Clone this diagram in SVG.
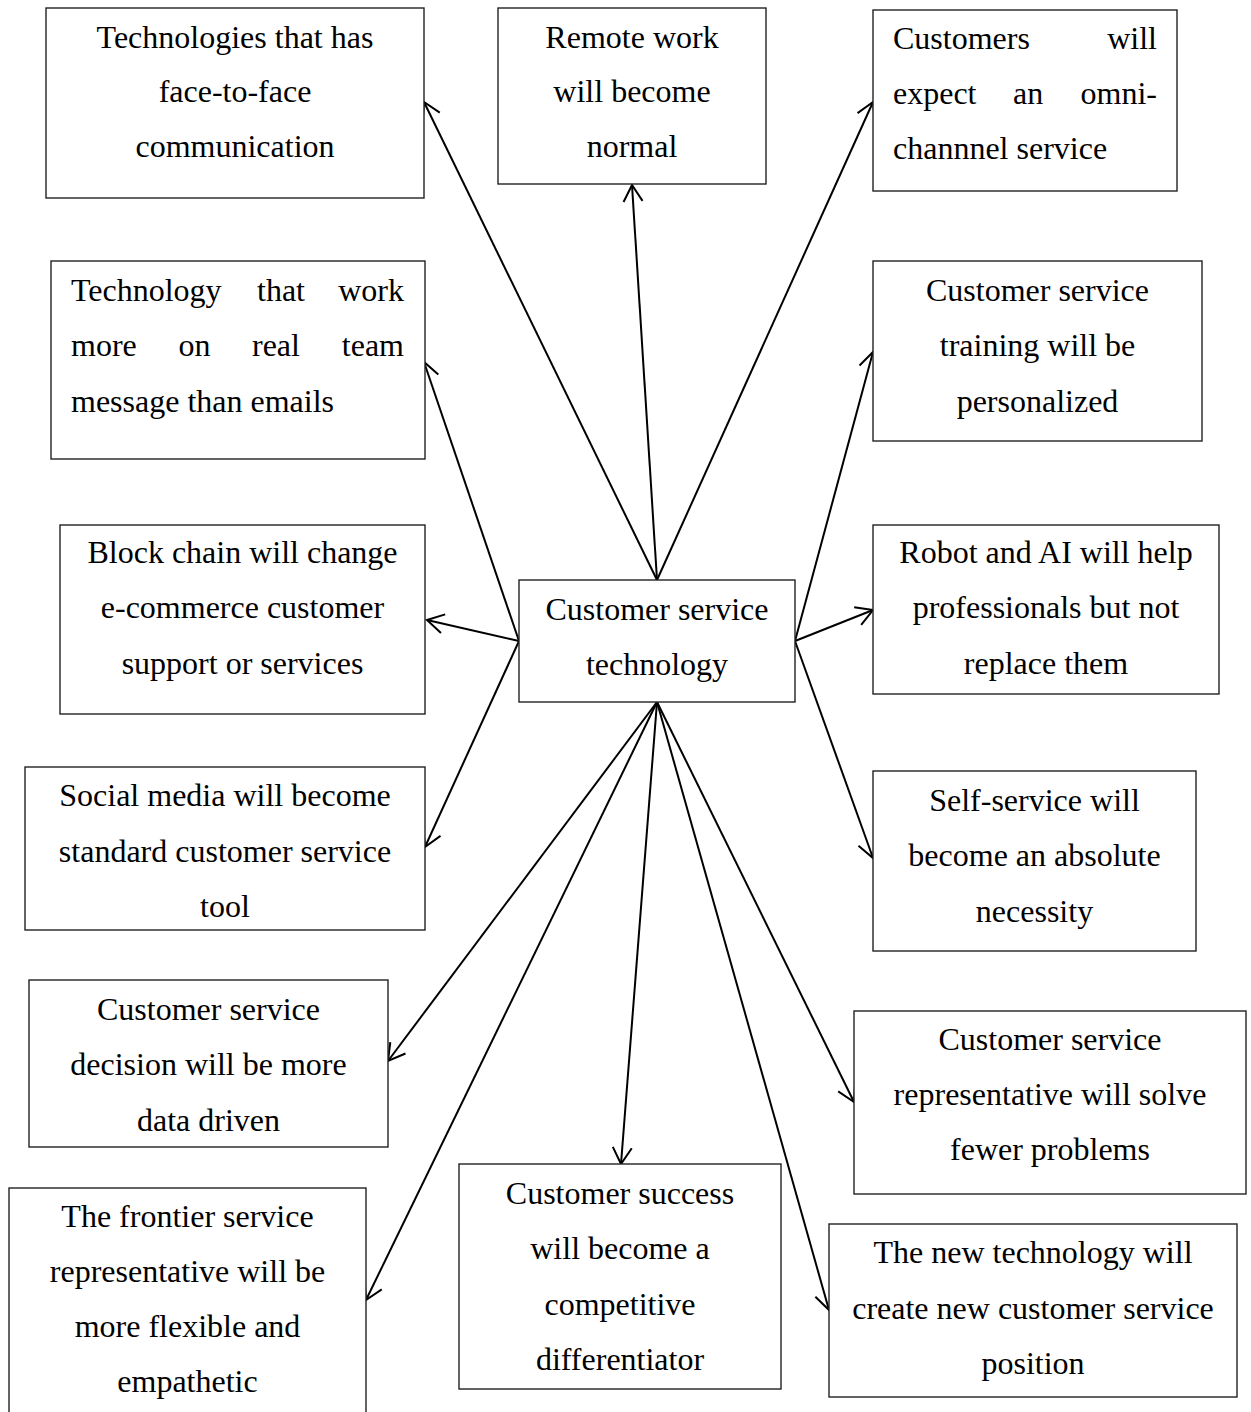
<svg xmlns="http://www.w3.org/2000/svg" width="1251" height="1412" viewBox="0 0 1251 1412">
  <style>
    .box { fill: #ffffff; stroke: #222222; stroke-width: 1.4; }
    .lbl { font-family: "Liberation Serif", "Times New Roman", serif; font-size: 32px; fill: #000000; }
    .c { text-anchor: middle; }
    .e { text-anchor: end; }
    .link { fill: none; stroke: #000000; stroke-width: 2; marker-end: url(#arrow); }
  </style>
  <defs>
    <marker id="arrow" viewBox="-20 -12 24 24" refX="0" refY="0" markerWidth="24" markerHeight="24" markerUnits="userSpaceOnUse" orient="auto">
      <path d="M-16.5,-9.5 L0,0 L-16.5,9.5" fill="none" stroke="#000000" stroke-width="2" stroke-linejoin="miter"/>
    </marker>
  </defs>
  <rect width="1251" height="1412" fill="#ffffff"/>

  <!-- connectors radiating from the central node -->
  <g id="connectors">
    <line class="link" x1="657" y1="580" x2="424" y2="102"/>
    <line class="link" x1="657" y1="580" x2="632" y2="185"/>
    <line class="link" x1="657" y1="580" x2="873" y2="102"/>
    <line class="link" x1="519" y1="641" x2="424" y2="362"/>
    <line class="link" x1="519" y1="641" x2="427" y2="620"/>
    <line class="link" x1="519" y1="641" x2="425" y2="847"/>
    <line class="link" x1="795" y1="641" x2="873" y2="352"/>
    <line class="link" x1="795" y1="641" x2="873" y2="610"/>
    <line class="link" x1="795" y1="641" x2="873" y2="858"/>
    <line class="link" x1="657" y1="702" x2="388" y2="1061"/>
    <line class="link" x1="657" y1="702" x2="366" y2="1300"/>
    <line class="link" x1="657" y1="702" x2="621" y2="1164"/>
    <line class="link" x1="657" y1="702" x2="854" y2="1102"/>
    <line class="link" x1="657" y1="702" x2="829" y2="1310"/>
  </g>

  <g id="center">
    <rect class="box" x="519" y="580" width="276" height="122"/>
    <text class="lbl c" x="657" y="620">Customer service</text>
    <text class="lbl c" x="657" y="675">technology</text>
  </g>

  <g id="face-to-face">
    <rect class="box" x="46" y="8" width="378" height="190"/>
    <text class="lbl c" x="235" y="48">Technologies that has</text>
    <text class="lbl c" x="235" y="102">face-to-face</text>
    <text class="lbl c" x="235" y="157">communication</text>
  </g>

  <g id="remote-work">
    <rect class="box" x="498" y="8" width="268" height="176"/>
    <text class="lbl c" x="632" y="48">Remote work</text>
    <text class="lbl c" x="632" y="102">will become</text>
    <text class="lbl c" x="632" y="157">normal</text>
  </g>

  <g id="omni-channel">
    <rect class="box" x="873" y="10" width="304" height="181"/>
    <text class="lbl" x="893" y="49">Customers</text>
    <text class="lbl e" x="1157" y="49">will</text>
    <text class="lbl" x="893" y="104">expect</text>
    <text class="lbl" x="1013" y="104">an</text>
    <text class="lbl e" x="1157" y="104">omni-</text>
    <text class="lbl" x="893" y="159">channnel service</text>
  </g>

  <g id="team-messaging">
    <rect class="box" x="51" y="261" width="374" height="198"/>
    <text class="lbl" x="71" y="301">Technology</text>
    <text class="lbl" x="257" y="301">that</text>
    <text class="lbl e" x="404" y="301">work</text>
    <text class="lbl" x="71" y="356">more</text>
    <text class="lbl" x="178.5" y="356">on</text>
    <text class="lbl" x="252" y="356">real</text>
    <text class="lbl e" x="404" y="356">team</text>
    <text class="lbl" x="71" y="412">message than emails</text>
  </g>

  <g id="block-chain">
    <rect class="box" x="60" y="525" width="365" height="189"/>
    <text class="lbl c" x="242.5" y="563">Block chain will change</text>
    <text class="lbl c" x="242.5" y="618">e-commerce customer</text>
    <text class="lbl c" x="242.5" y="674">support or services</text>
  </g>

  <g id="social-media">
    <rect class="box" x="25" y="767" width="400" height="163"/>
    <text class="lbl c" x="225" y="806">Social media will become</text>
    <text class="lbl c" x="225" y="862">standard customer service</text>
    <text class="lbl c" x="225" y="917">tool</text>
  </g>

  <g id="data-driven">
    <rect class="box" x="29" y="980" width="359" height="167"/>
    <text class="lbl c" x="208.5" y="1020">Customer service</text>
    <text class="lbl c" x="208.5" y="1075">decision will be more</text>
    <text class="lbl c" x="208.5" y="1131">data driven</text>
  </g>

  <g id="frontier-rep">
    <rect class="box" x="9" y="1188" width="357" height="240"/>
    <text class="lbl c" x="187.5" y="1227">The frontier service</text>
    <text class="lbl c" x="187.5" y="1282">representative will be</text>
    <text class="lbl c" x="187.5" y="1337">more flexible and</text>
    <text class="lbl c" x="187.5" y="1392">empathetic</text>
  </g>

  <g id="customer-success">
    <rect class="box" x="459" y="1164" width="322" height="225"/>
    <text class="lbl c" x="620" y="1204">Customer success</text>
    <text class="lbl c" x="620" y="1259">will become a</text>
    <text class="lbl c" x="620" y="1315">competitive</text>
    <text class="lbl c" x="620" y="1370">differentiator</text>
  </g>

  <g id="new-positions">
    <rect class="box" x="829" y="1224" width="408" height="173"/>
    <text class="lbl c" x="1033" y="1263">The new technology will</text>
    <text class="lbl c" x="1033" y="1319">create new customer service</text>
    <text class="lbl c" x="1033" y="1374">position</text>
  </g>

  <g id="fewer-problems">
    <rect class="box" x="854" y="1011" width="392" height="183"/>
    <text class="lbl c" x="1050" y="1050">Customer service</text>
    <text class="lbl c" x="1050" y="1105">representative will solve</text>
    <text class="lbl c" x="1050" y="1160">fewer problems</text>
  </g>

  <g id="self-service">
    <rect class="box" x="873" y="771" width="323" height="180"/>
    <text class="lbl c" x="1034.5" y="811">Self-service will</text>
    <text class="lbl c" x="1034.5" y="866">become an absolute</text>
    <text class="lbl c" x="1034.5" y="922">necessity</text>
  </g>

  <g id="robot-ai">
    <rect class="box" x="873" y="525" width="346" height="169"/>
    <text class="lbl c" x="1046" y="563">Robot and AI will help</text>
    <text class="lbl c" x="1046" y="618">professionals but not</text>
    <text class="lbl c" x="1046" y="674">replace them</text>
  </g>

  <g id="training">
    <rect class="box" x="873" y="261" width="329" height="180"/>
    <text class="lbl c" x="1037.5" y="301">Customer service</text>
    <text class="lbl c" x="1037.5" y="356">training will be</text>
    <text class="lbl c" x="1037.5" y="412">personalized</text>
  </g>
</svg>
